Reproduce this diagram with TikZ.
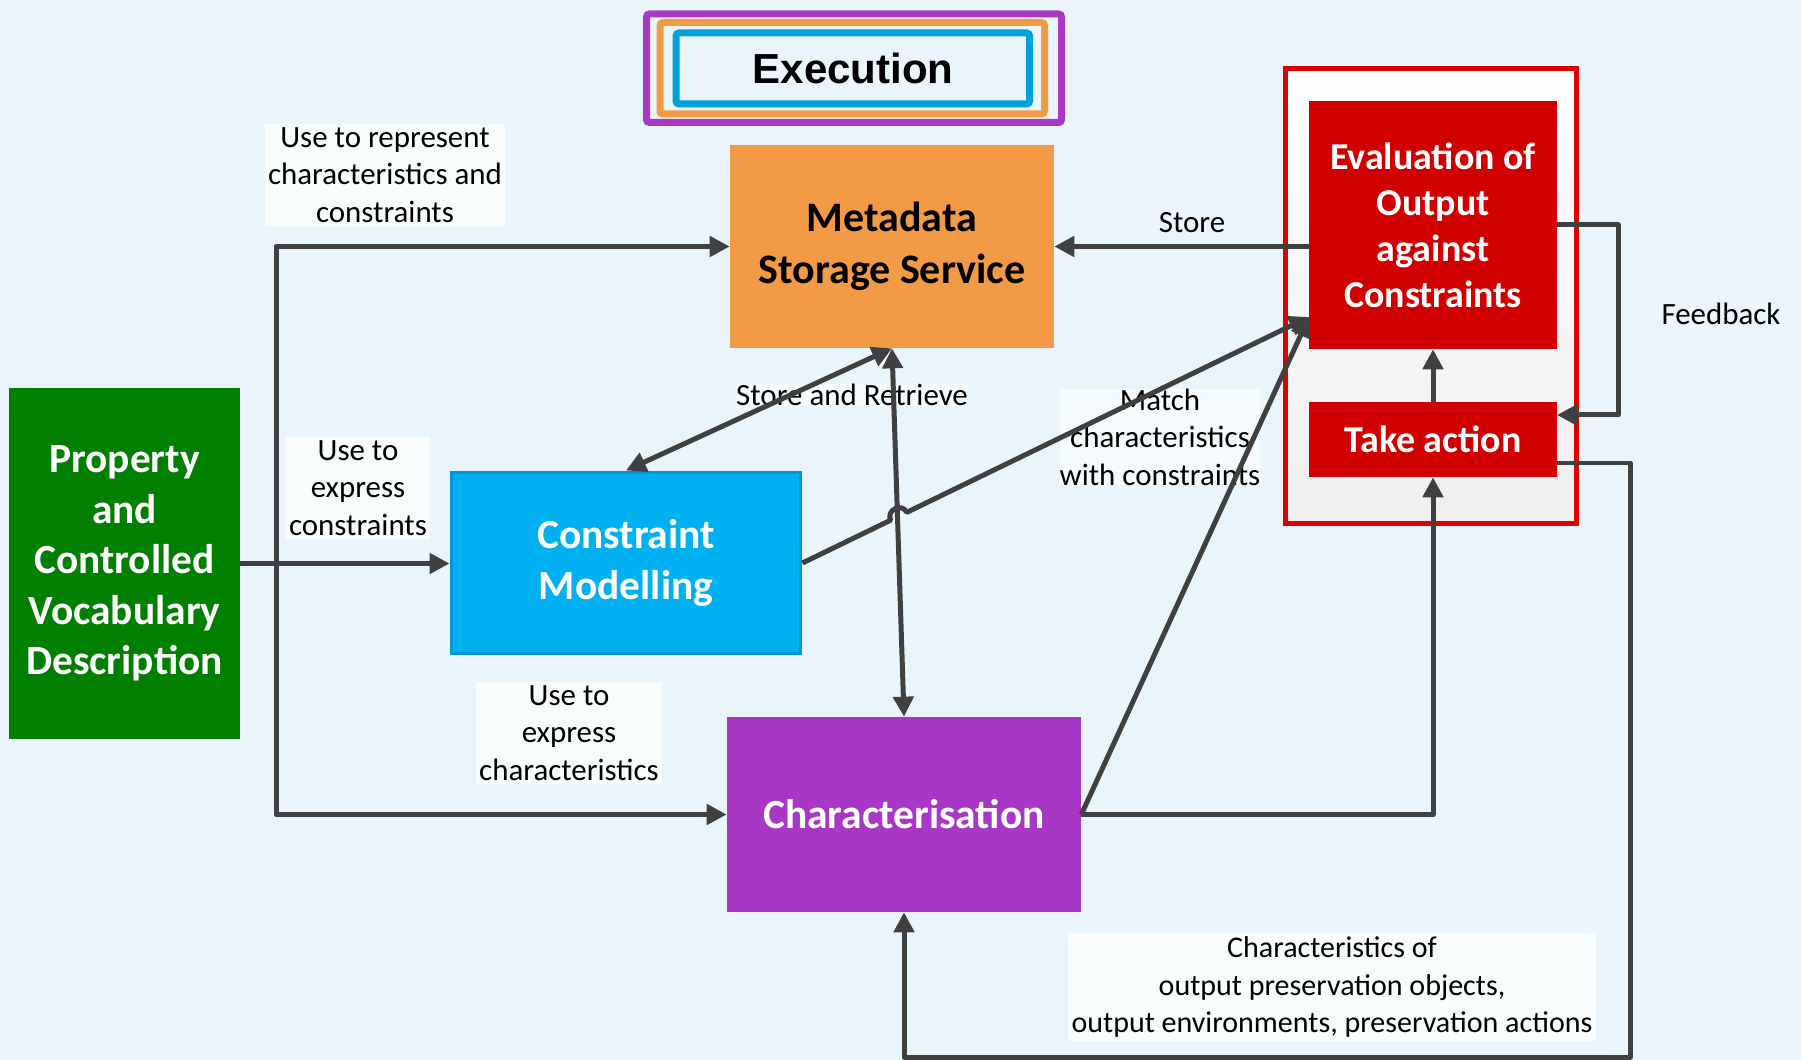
\documentclass[tikz,border=0pt]{standalone}
\usepackage{fontspec}
\setmainfont{Carlito}
\newfontfamily\execfont{Liberation Sans}
\usepackage{tikz}
\usetikzlibrary{arrows.meta, calc}

\definecolor{bgblue}{HTML}{EAF5FB}
\definecolor{linegray}{HTML}{404040}
\definecolor{metaorange}{HTML}{F29A46}
\definecolor{evalred}{HTML}{D00000}
\definecolor{framered}{HTML}{DD0000}
\definecolor{cmblue}{HTML}{00B0F0}
\definecolor{cmborder}{HTML}{0096D8}
\definecolor{propgreen}{HTML}{007F00}
\definecolor{charpurple}{HTML}{A837C6}
\definecolor{execpurple}{HTML}{A838C6}
\definecolor{execorange}{HTML}{F39A45}
\definecolor{execblue}{HTML}{00A0DC}

\begin{document}
\begin{tikzpicture}[x=0.02cm, y=-0.02cm,
  >={Triangle[length=0.4cm, width=0.4cm]},
  box/.style={rectangle, inner sep=0pt, align=center, text=white,
    font={\bfseries\fontsize{23.6}{28.7}\selectfont}},
  conn/.style={draw=linegray, line width=0.1cm, line join=round, ->},
  lbl/.style={fill=white, fill opacity=0.75, text opacity=1, align=center,
    inner sep=2pt, font={\fontsize{17.6}{21.3}\selectfont}},
  txt/.style={align=center, inner sep=2pt, font={\fontsize{17.6}{21.3}\selectfont}}]

% background
\fill[bgblue] (0,0) rectangle (1801,1060);
\useasboundingbox (0,0) rectangle (1801,1060);

% draw execution frames
\draw[execpurple, line width=0.14cm, rounded corners=0.06cm] (646.5,14) rectangle (1061.5,122.5);
\draw[execorange, line width=0.14cm, rounded corners=0.06cm] (660,22.5) rectangle (1044.5,114);
\draw[execblue, line width=0.14cm, rounded corners=0.06cm] (676,33) rectangle (1029.5,104);
\node[font={\execfont\bfseries\fontsize{23.9}{28}\selectfont}] (exec) at (853,68) {Execution};

% draw red frame round evaluation
\path[draw=framered, line width=0.1cm, top color=white, bottom color=gray!13] (1285.5,68.5) rectangle (1576.5,523);

% draw boxes
\node[box, fill=metaorange, text=black, minimum width=6.48cm, minimum height=4.06cm,
  font={\bfseries\fontsize{23.9}{29.6}\selectfont}] (meta) at (892,246.5) {Metadata\\Storage Service};
\node[box, fill=evalred, minimum width=4.96cm, minimum height=4.96cm,
  font={\bfseries\fontsize{21.6}{26.2}\selectfont}] (eval) at (1433,225) {Evaluation of\\Output\\against\\Constraints};
\node[box, fill=evalred, minimum width=4.96cm, minimum height=1.5cm,
  font={\bfseries\fontsize{21.6}{26.2}\selectfont}] (action) at (1433,439.5) {Take action};
\node[box, fill=cmblue, draw=cmborder, line width=0.06cm, minimum width=7cm, minimum height=3.64cm] (model) at (626,563) {Constraint\\Modelling};
\node[box, fill=propgreen, minimum width=4.62cm, minimum height=7.02cm] (vocab) at (124.5,563.5) {Property\\and\\Controlled\\Vocabulary\\Description};
\node[box, fill=charpurple, minimum width=7.08cm, minimum height=3.9cm] (charac) at (904,814.5) {Characterisation};

% draw labels
\node[lbl] (lrep) at (385,175) {Use to represent\\characteristics and\\constraints};
\node[lbl] (lexpcon) at (358,488) {Use to\\express\\constraints};
\node[lbl] (lexpchar) at (569,733) {Use to\\express\\characteristics};
\node[lbl, fill opacity=0.55, inner sep=0pt] (lsr) at (852,395) {Store and Retrieve};
\node[lbl, fill opacity=0.55, inner sep=0pt] (lmatch) at (1160,437) {Match\\characteristics\\with constraints};
\node[txt] (lstore) at (1192,223) {Store};
\node[txt] (lfeed) at (1721,314) {Feedback};
\node[lbl, font={\fontsize{17.1}{21.6}\selectfont}] (lbottom) at (1332,987) {Characteristics of\\output preservation objects,\\output environments, preservation actions};

% draw connectors from property
\coordinate (split) at (276,563.5);
\draw[conn] (vocab.east |- split) -- (model.west |- split);
\draw[conn] (split) |- (meta.west);
\draw[conn] (split) |- (charac.west);

% draw store connectors
\draw[conn] (eval.west |- meta.east) -- (meta.east);
\draw[conn, <->] (model.north) -- (meta.south);
\draw[conn, <->] (meta.south) -- (charac.north);

% draw match connectors, one with a hop
\coordinate (evalin) at (1309,317);
\draw[conn] (model.east) -- ($(model.east)!0.174!(evalin)$)
  to[bend left=90, looseness=1.6] ($(model.east)!0.206!(evalin)$) -- (evalin);
\draw[conn] (charac.east) -- (evalin);

% draw action connectors
\draw[conn] (charac.east) -| (action.south);
\draw[conn] (action.north) -- (eval.south);
\coordinate (fbin) at (1557,415);
\draw[conn] (eval.east) -- ++(61,0) |- (fbin);
\coordinate (taout) at (1557,463);
\coordinate (loop) at (1630,1057);
\draw[conn] (taout) -| (loop) -| (charac.south);

\end{tikzpicture}
\end{document}
